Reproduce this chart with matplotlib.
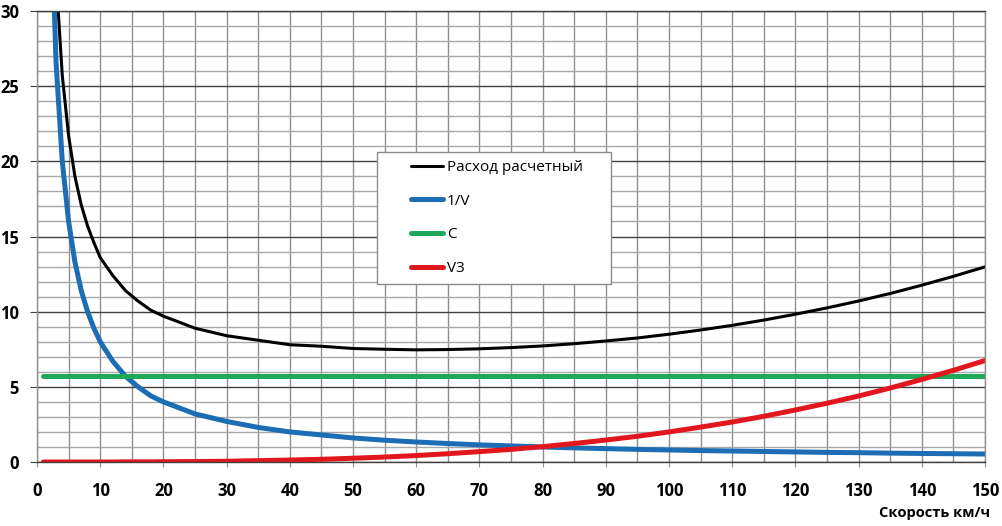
import matplotlib
matplotlib.use('Agg')
import matplotlib.pyplot as plt
from matplotlib.patches import Rectangle
from matplotlib.ticker import MultipleLocator

plt.rcParams['font.family'] = ['Open Sans', 'DejaVu Sans']

# data
speed = [1, 2, 3, 4, 5, 6, 7, 8, 9, 10, 12, 14, 16, 18, 20, 25, 30, 35, 40, 45, 50,
         55, 60, 65, 70, 75, 80, 85, 90, 95, 100, 105, 110, 115, 120, 125, 130,
         135, 140, 145, 150]
rashod = [85.7, 45.7, 32.4, 25.7, 21.7, 19.0, 17.1, 15.7, 14.6, 13.6, 12.4, 11.4,
          10.7, 10.1, 9.7, 8.9, 8.4, 8.1, 7.8, 7.7, 7.55, 7.5, 7.46, 7.48, 7.53,
          7.61, 7.72, 7.87, 8.05, 8.25, 8.5, 8.78, 9.09, 9.44, 9.83, 10.25, 10.71,
          11.21, 11.76, 12.35, 12.98]
inv_v = [80, 40, 26.7, 20, 16, 13.3, 11.4, 10, 8.9, 8, 6.7, 5.7, 5.0, 4.4, 4.0,
         3.2, 2.7, 2.3, 2.0, 1.8, 1.6, 1.45, 1.33, 1.23, 1.14, 1.07, 1.0, 0.94,
         0.89, 0.84, 0.8, 0.76, 0.73, 0.7, 0.67, 0.64, 0.62, 0.59, 0.57, 0.55, 0.53]
c_speed = [1, 150]
c_vals = [5.7, 5.7]
v3 = [0.0, 0.0, 0.0, 0.0, 0.0, 0.0, 0.0, 0.0, 0.0, 0.0, 0.0, 0.01, 0.01, 0.01,
      0.02, 0.03, 0.05, 0.09, 0.13, 0.18, 0.25, 0.33, 0.43, 0.55, 0.69, 0.84,
      1.02, 1.23, 1.46, 1.71, 2.0, 2.32, 2.66, 3.04, 3.46, 3.91, 4.39, 4.92,
      5.49, 6.10, 6.75]

labels = ['Расход расчетный', '1/V', 'C', 'V3']
colors = ['black', '#1c6db3', '#1ea85a', '#e2171e']

fig = plt.figure(figsize=(10.02, 5.26), dpi=100)
ax = fig.add_axes([37/1002, 1 - 462/526, (985 - 37)/1002, (462 - 11)/526])

l1, = ax.plot(speed, rashod, color=colors[0], lw=2.2)
l2, = ax.plot(speed, inv_v, color=colors[1], lw=3.6)
l3, = ax.plot(c_speed, c_vals, color=colors[2], lw=3.6, solid_capstyle='round')
l4, = ax.plot(speed, v3, color=colors[3], lw=3.6, solid_capstyle='round')

ax.set_xlim(0, 150)
ax.set_ylim(0, 30)
ax.xaxis.set_major_locator(MultipleLocator(10))
ax.xaxis.set_minor_locator(MultipleLocator(5))
ax.yaxis.set_major_locator(MultipleLocator(5))
ax.yaxis.set_minor_locator(MultipleLocator(1))

ax.grid(True, axis='x', which='both', color='#8f8f8f', lw=1)
ax.grid(True, axis='y', which='minor', color='#a8a8a8', lw=1)
ax.grid(True, axis='y', which='major', color='#404040', lw=1)
ax.set_axisbelow(True)

ax.tick_params(axis='both', which='minor', length=0)
ax.tick_params(axis='y', which='major', length=5, color='#404040', pad=8)
ax.tick_params(axis='x', which='major', length=3.5, color='#8f8f8f', pad=11)
for lab in ax.get_xticklabels() + ax.get_yticklabels():
    lab.set_fontsize(12)
    lab.set_fontweight('bold')

ax.spines['left'].set_color('#8f8f8f')
ax.spines['right'].set_color('#8f8f8f')
ax.spines['top'].set_color('#404040')
ax.spines['bottom'].set_color('#404040')
for s in ax.spines.values():
    s.set_linewidth(1)

fig.text(990/1002, 1 - 513/526, 'Скорость км/ч', ha='right', va='center',
         fontsize=10.5, fontweight='bold')

# legend box
rect = Rectangle((377/1002, 1 - 284/526), (611 - 377)/1002, (284 - 152)/526,
                 transform=fig.transFigure, facecolor='white', edgecolor='#8a8a8a',
                 lw=1, zorder=2)
fig.add_artist(rect)
leg = fig.legend([l1, l2, l3, l4], labels, loc='center left',
                 bbox_to_anchor=(411/1002, 1 - 218/526), frameon=False,
                 fontsize=11, borderpad=0, borderaxespad=0, handlelength=2.1,
                 handletextpad=0.25, labelspacing=1.22)
leg.set_zorder(3)
for h in leg.legend_handles:
    h.set_solid_capstyle('round')

fig.savefig('out.png', dpi=100)
